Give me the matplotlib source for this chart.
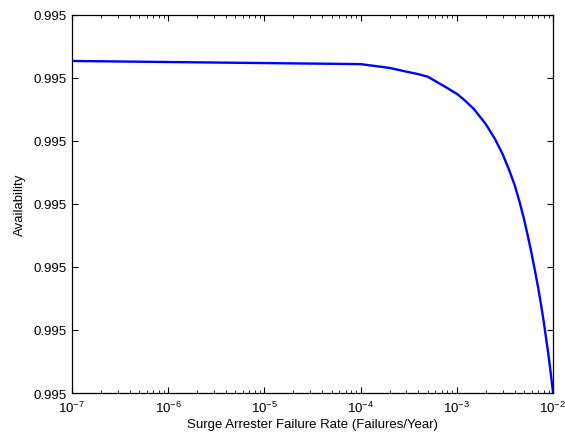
import matplotlib
matplotlib.use("Agg")
import matplotlib.pyplot as plt
from matplotlib.ticker import FormatStrFormatter, LogLocator, MultipleLocator

failure_rate = [1e-7, 1e-4, 2e-4, 3e-4, 4e-4, 5e-4, 6e-4, 7e-4, 8e-4, 9e-4,
                1e-3, 1.2e-3, 1.5e-3, 2e-3, 2.5e-3, 3e-3, 3.5e-3, 4e-3, 4.5e-3,
                5e-3, 5.5e-3, 6e-3, 6.5e-3, 7e-3, 7.5e-3, 8e-3, 8.5e-3, 9e-3,
                9.5e-3, 1e-2]
availability = [0.9950527, 0.9950522, 0.9950516, 0.9950510, 0.9950506, 0.9950502,
                0.9950495, 0.9950489, 0.9950484, 0.9950479, 0.9950475, 0.9950465,
                0.9950451, 0.9950427, 0.9950403, 0.9950379, 0.9950354, 0.9950330,
                0.9950303, 0.9950276, 0.9950248, 0.9950221, 0.9950194, 0.9950168,
                0.9950141, 0.9950114, 0.9950086, 0.9950059, 0.9950030, 0.9950002]

plt.rcParams['font.family'] = ['Liberation Sans', 'DejaVu Sans']
plt.rcParams['axes.unicode_minus'] = False
plt.rcParams['mathtext.fontset'] = 'custom'
plt.rcParams['mathtext.rm'] = 'Liberation Sans'
plt.rcParams['mathtext.it'] = 'Liberation Sans'
fig = plt.figure(figsize=(5.65, 4.39), dpi=100)
ax = fig.add_axes([0.1274, 0.1025, 0.8513, 0.8611])
ax.plot(failure_rate, availability, color=(0, 0, 1), linewidth=1.7)
ax.set_xscale('log')
ax.set_xlim(1e-7, 1e-2)
ax.set_ylim(0.99500, 0.99506)
ax.yaxis.set_major_locator(MultipleLocator(0.00001))
ax.yaxis.set_major_formatter(FormatStrFormatter('%.3f'))
ax.xaxis.set_major_locator(LogLocator(base=10, numticks=10))
ax.xaxis.set_minor_locator(LogLocator(base=10, subs=range(2, 10), numticks=20))
ax.tick_params(which='both', direction='in', top=True, right=True, labelsize=9.5)
ax.tick_params(which='major', length=4, width=0.8)
ax.tick_params(which='minor', length=2, width=0.6)
ax.tick_params(axis='x', pad=5)
for s in ax.spines.values():
    s.set_linewidth(0.9)
ax.set_xlabel('Surge Arrester Failure Rate (Failures/Year)', fontsize=9.5, labelpad=2)
ax.set_ylabel('Availability', fontsize=9.5, labelpad=6)
fig.savefig('out.png', dpi=100)
